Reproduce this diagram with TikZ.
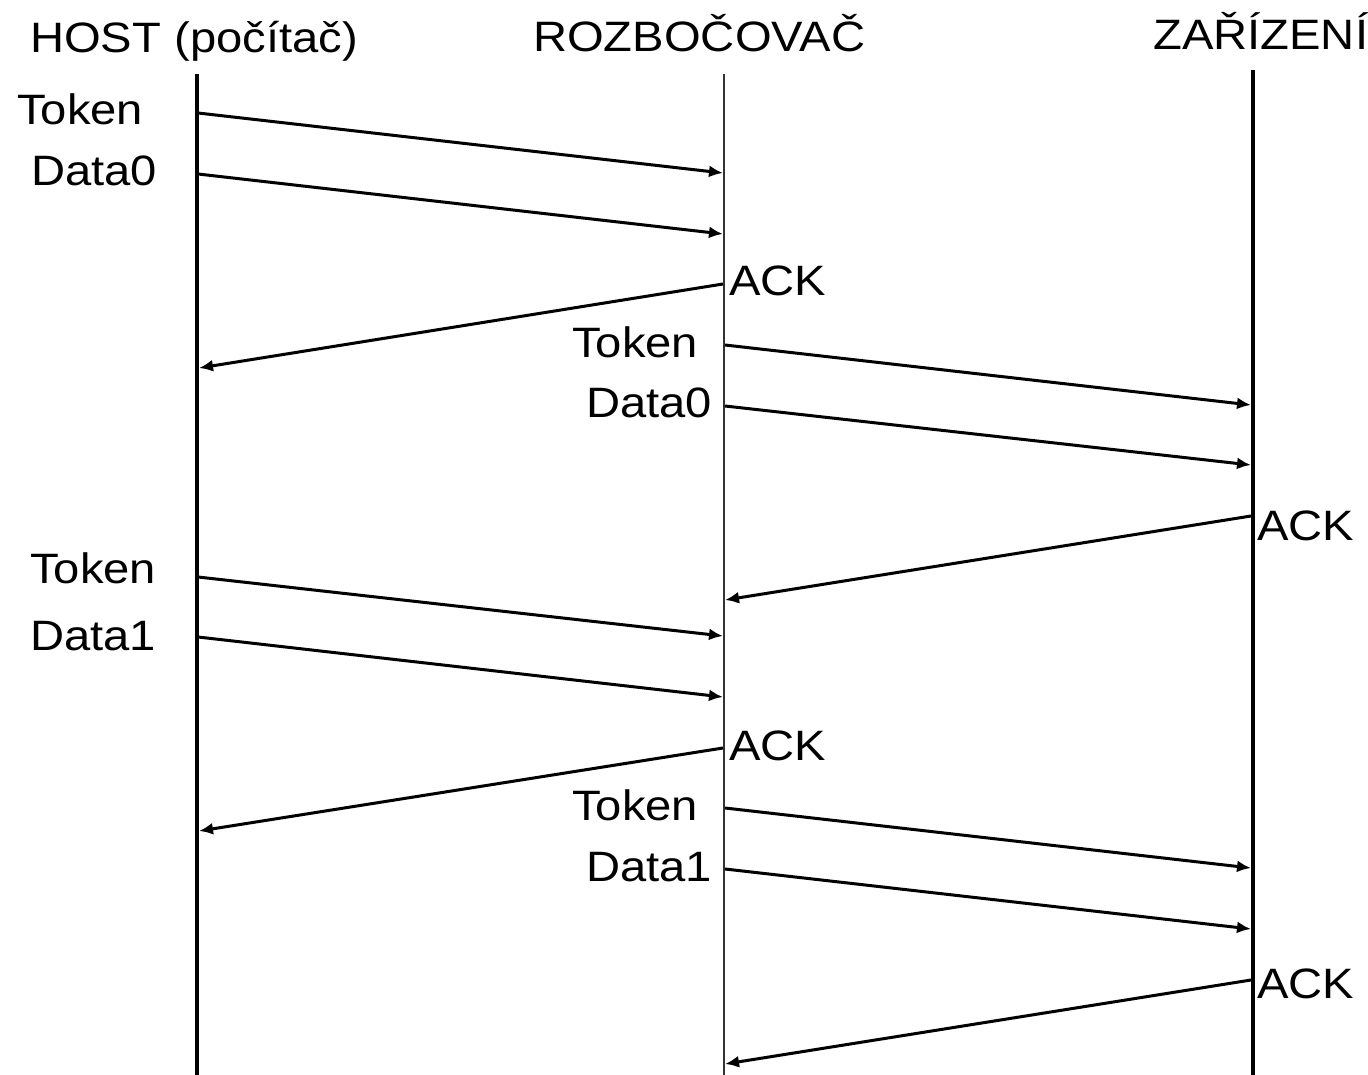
\documentclass[tikz,border=0pt]{standalone}
\usepackage{fontspec}
\setmainfont{Liberation Sans}[FakeStretch=1.11]
\usetikzlibrary{arrows.meta}
\begin{document}
\begin{tikzpicture}[x=1pt,y=-1pt,
  lbl/.style={anchor=base west, inner sep=0pt, font=\fontsize{42.5}{50}\selectfont},
  msg/.style={line width=3pt, -{Latex[length=14pt,width=12pt]}},
  hostline/.style={line width=3.6pt},
  hubline/.style={line width=2pt, black!80},
  devline/.style={line width=4pt}]
\useasboundingbox (0,0) rectangle (1368,1075);
\fill[white] (0,0) rectangle (1368,1075);

% headings
\node[lbl] (hhost) at (30,53) {HOST (počítač)};
\node[lbl] (hhub) at (533,52) {ROZBOČOVAČ};
\node[lbl] (hdev) at (1153,50) {ZAŘÍZENÍ};

% lifelines
\coordinate (H0) at (197,74);  \coordinate (H1) at (197,1075);
\coordinate (R0) at (724,74);  \coordinate (R1) at (724,1075);
\coordinate (D0) at (1253,70); \coordinate (D1) at (1253,1075);
\draw[hostline] (H0) -- (H1);
\draw[hubline] (R0) -- (R1);
\draw[devline] (D0) -- (D1);

% message end points
\coordinate (a1) at (198,113);  \coordinate (b1) at (723,173);
\coordinate (a2) at (198,174);  \coordinate (b2) at (723,234);
\coordinate (a3) at (723,284);  \coordinate (b3) at (199,368);
\coordinate (a4) at (725,345);  \coordinate (b4) at (1251,405);
\coordinate (a5) at (725,406);  \coordinate (b5) at (1251,465);
\coordinate (a6) at (1251,516); \coordinate (b6) at (725,600);
\coordinate (a7) at (198,577);  \coordinate (b7) at (723,636);
\coordinate (a8) at (198,637);  \coordinate (b8) at (723,697);
\coordinate (a9) at (723,748);  \coordinate (b9) at (199,831);
\coordinate (a10) at (725,808); \coordinate (b10) at (1251,868);
\coordinate (a11) at (725,869); \coordinate (b11) at (1251,929);
\coordinate (a12) at (1251,980);\coordinate (b12) at (725,1064);

\foreach \i in {1,...,12} {\draw[msg] (a\i) -- (b\i);}

% labels
\node[lbl] (t1) at (17,125) {Token};
\node[lbl] (d1) at (31,186) {Data0};
\node[lbl] (k1) at (729,296) {ACK};
\node[lbl] (t2) at (572,357) {Token};
\node[lbl] (d2) at (586,417) {Data0};
\node[lbl] (k2) at (1257,540) {ACK};
\node[lbl] (t3) at (30,583) {Token};
\node[lbl] (d3) at (30,650) {Data1};
\node[lbl] (k3) at (729,760) {ACK};
\node[lbl] (t4) at (572,820) {Token};
\node[lbl] (d4) at (586,881) {Data1};
\node[lbl] (k4) at (1257,998) {ACK};
\end{tikzpicture}
\end{document}
